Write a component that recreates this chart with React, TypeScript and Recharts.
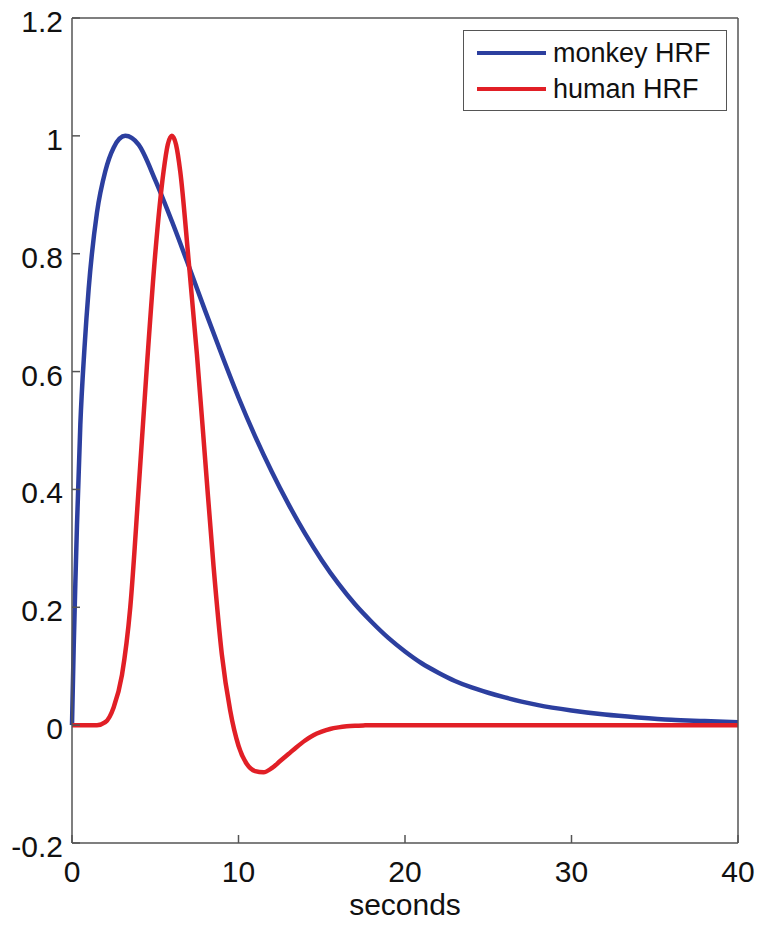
import React from "react";
import { LineChart, Line, XAxis, YAxis, Legend, Label } from "recharts";

// seconds / value pairs
const monkeyT = [0, 0.1, 0.2, 0.3, 0.5, 0.75, 1, 1.5, 2, 2.5, 3.2, 4, 5, 6, 7, 8, 9, 10, 11, 12, 13, 14, 15, 16, 17, 18, 19, 20, 21, 22, 23, 24, 25, 26, 27, 28, 30, 32, 34, 36, 38, 40];
const monkeyV = [0, 0.13, 0.24, 0.34, 0.51, 0.64, 0.74, 0.87, 0.94, 0.98, 1.0, 0.985, 0.925, 0.855, 0.78, 0.703, 0.628, 0.556, 0.49, 0.43, 0.375, 0.325, 0.28, 0.24, 0.205, 0.175, 0.148, 0.125, 0.105, 0.089, 0.075, 0.064, 0.055, 0.047, 0.04, 0.034, 0.025, 0.018, 0.013, 0.009, 0.007, 0.005];

const humanT = [0, 1, 1.5, 2, 2.5, 3, 3.5, 4, 4.5, 5, 5.5, 5.75, 6, 6.25, 6.5, 7, 7.5, 8, 8.5, 9, 9.5, 10, 10.5, 11, 11.5, 12, 12.5, 13, 13.5, 14, 14.5, 15, 15.5, 16, 16.5, 17, 17.5, 18, 20, 25, 30, 35, 40];
const humanV = [0, 0, 0, 0.005, 0.03, 0.085, 0.2, 0.4, 0.61, 0.8, 0.94, 0.985, 1.0, 0.985, 0.94, 0.79, 0.63, 0.45, 0.27, 0.12, 0.025, -0.035, -0.066, -0.078, -0.08, -0.073, -0.061, -0.049, -0.037, -0.026, -0.017, -0.011, -0.0065, -0.0038, -0.002, -0.001, -0.0004, 0, 0, 0, 0, 0, 0];

const seriesNames = ["monkey HRF", "human HRF"];
const secondsTicks = [0, 10, 20, 30, 40];
const valueTicks = [-0.2, 0, 0.2, 0.4, 0.6, 0.8, 1, 1.2];

const monkeyData = monkeyT.map((t, i) => ({ t, v: monkeyV[i] }));
const humanData = humanT.map((t, i) => ({ t, v: humanV[i] }));

const BLUE = "#2c3f9f";
const RED = "#e11f26";
const AXIS = "#555";
const FONT = "'Liberation Sans', Arial, Helvetica, sans-serif";

function BottomTick({ x, y, payload }: any) {
  return (
    <g>
      <line x1={x} x2={x} y1={y} y2={y - 8} stroke={AXIS} strokeWidth={1.5} />
      <text x={x} y={y + 39} textAnchor="middle" fontSize={30} fill="#111" fontFamily={FONT}>
        {payload.value}
      </text>
    </g>
  );
}

function TopTick({ x, y }: any) {
  return <line x1={x} x2={x} y1={y} y2={y + 8} stroke={AXIS} strokeWidth={1.5} />;
}

function LeftTick({ x, y, payload }: any) {
  return (
    <g>
      <line x1={x} x2={x + 8} y1={y} y2={y} stroke={AXIS} strokeWidth={1.5} />
      <text x={x - 9} y={y + 14} textAnchor="end" fontSize={30} fill="#111" fontFamily={FONT}>
        {String(payload.value)}
      </text>
    </g>
  );
}

function RightTick({ x, y }: any) {
  return <line x1={x} x2={x - 8} y1={y} y2={y} stroke={AXIS} strokeWidth={1.5} />;
}

const renderLegend = (props: any) => {
  const items = [...(props.payload || [])].sort(
    (a: any, b: any) => seriesNames.indexOf(a.value) - seriesNames.indexOf(b.value)
  );
  return (
    <div
      style={{
        position: "relative",
        width: 264,
        height: 81,
        border: `1.5px solid ${AXIS}`,
        boxSizing: "border-box",
        background: "#fff",
        fontFamily: FONT,
        fontSize: 27,
        color: "#111",
      }}
    >
      {items.map((it: any, i: number) => (
        <div key={it.value} style={{ position: "absolute", left: 0, top: 22 + i * 36 - 16, height: 32, display: "flex", alignItems: "center" }}>
          <div style={{ marginLeft: 13, width: 69, height: 4, background: it.color }} />
          <span style={{ marginLeft: 7, whiteSpace: "nowrap" }}>{it.value}</span>
        </div>
      ))}
    </div>
  );
};

export default function App() {
  return (
    <div style={{ position: "absolute", left: 0, top: 0, background: "#fff" }}>
      <LineChart width={758} height={927} margin={{ top: 17, right: 19, bottom: 0, left: 0 }}>
        <XAxis
          dataKey="t"
          type="number"
          domain={[0, 40]}
          ticks={secondsTicks}
          height={84}
          tickSize={0}
          tickMargin={0}
          tick={BottomTick}
          axisLine={{ stroke: AXIS, strokeWidth: 1.5 }}
        >
          <Label value="seconds" position="insideBottom" offset={12} fontSize={30} fill="#111" fontFamily={FONT} />
        </XAxis>
        <XAxis
          xAxisId="top"
          orientation="top"
          dataKey="t"
          type="number"
          domain={[0, 40]}
          ticks={secondsTicks}
          height={1}
          tickSize={0}
          tickMargin={0}
          tick={TopTick}
          axisLine={{ stroke: AXIS, strokeWidth: 1.5 }}
        />
        <YAxis
          type="number"
          domain={[-0.2, 1.2]}
          ticks={valueTicks}
          width={72}
          tickSize={0}
          tickMargin={0}
          tick={LeftTick}
          axisLine={{ stroke: AXIS, strokeWidth: 1.5 }}
        />
        <YAxis
          yAxisId="right"
          orientation="right"
          type="number"
          domain={[-0.2, 1.2]}
          ticks={valueTicks}
          width={1}
          tickSize={0}
          tickMargin={0}
          tick={RightTick}
          axisLine={{ stroke: AXIS, strokeWidth: 1.5 }}
        />
        <Legend
          layout="horizontal"
          verticalAlign="middle"
          align="center"
          content={renderLegend}
          wrapperStyle={{ left: 463, top: 30, width: 264, height: 81 }}
        />
        <Line data={monkeyData} dataKey="v" name="monkey HRF" type="monotone" stroke={BLUE} strokeWidth={4.5} dot={false} isAnimationActive={false} />
        <Line data={humanData} dataKey="v" name="human HRF" type="monotone" stroke={RED} strokeWidth={4.5} dot={false} isAnimationActive={false} />
      </LineChart>
    </div>
  );
}
